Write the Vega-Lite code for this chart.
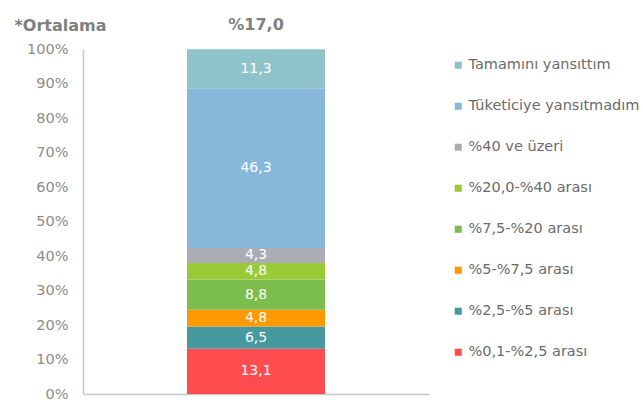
{
  "$schema": "https://vega.github.io/schema/vega-lite/v6.json",
  "description": "Single stacked bar with pass-through shares, Turkish labels.",
  "background": "white",
  "autosize": {"type": "none"},
  "padding": {"left": 83, "top": 49, "right": 214, "bottom": 16},
  "width": 346,
  "height": 345,
  "title": {
    "text": "%17,0",
    "anchor": "middle",
    "frame": "group",
    "font": "DejaVu Sans",
    "fontSize": 16,
    "fontWeight": "bold",
    "color": "#7f7f7f",
    "offset": -16
  },
  "config": {
    "view": {"stroke": null},
    "font": "DejaVu Sans",
    "axis": {"labelOverlap": false}
  },
  "data": {
    "values": [
      {"grup": "Ortalama", "sira": 1, "kategori": "%0,1-%2,5 arası", "deger": 13.1, "etiket": "13,1"},
      {"grup": "Ortalama", "sira": 2, "kategori": "%2,5-%5 arası", "deger": 6.5, "etiket": "6,5"},
      {"grup": "Ortalama", "sira": 3, "kategori": "%5-%7,5 arası", "deger": 4.8, "etiket": "4,8"},
      {"grup": "Ortalama", "sira": 4, "kategori": "%7,5-%20 arası", "deger": 8.8, "etiket": "8,8"},
      {"grup": "Ortalama", "sira": 5, "kategori": "%20,0-%40 arası", "deger": 4.8, "etiket": "4,8"},
      {"grup": "Ortalama", "sira": 6, "kategori": "%40 ve üzeri", "deger": 4.3, "etiket": "4,3"},
      {"grup": "Ortalama", "sira": 7, "kategori": "Tüketiciye yansıtmadım", "deger": 46.3, "etiket": "46,3"},
      {"grup": "Ortalama", "sira": 8, "kategori": "Tamamını yansıttım", "deger": 11.3, "etiket": "11,3"}
    ]
  },
  "encoding": {
    "x": {
      "field": "grup",
      "type": "nominal",
      "scale": {"paddingInner": 0, "paddingOuter": 0},
      "axis": {
        "title": null,
        "labels": false,
        "ticks": false,
        "domainColor": "#c8c8c8",
        "domainWidth": 1.5
      }
    },
    "order": {"field": "sira", "type": "quantitative"}
  },
  "resolve": {"axis": {"y": "independent"}},
  "layer": [
    {
      "mark": {"type": "bar", "width": 138},
      "encoding": {
        "y": {
          "field": "deger",
          "type": "quantitative",
          "stack": "zero",
          "scale": {"domain": [0, 100], "nice": false},
          "axis": {
            "title": "*Ortalama",
            "titleAngle": 0,
            "titleAlign": "left",
            "titleBaseline": "alphabetic",
            "titleX": -69,
            "titleY": -19,
            "titleFont": "DejaVu Sans",
            "titleFontSize": 16,
            "titleFontWeight": "bold",
            "titleColor": "#7f7f7f",
            "values": [0, 10, 20, 30, 40, 50, 60, 70, 80, 90, 100],
            "labelExpr": "datum.value + '%'",
            "labelOverlap": false,
            "labelFont": "DejaVu Sans",
            "labelFontSize": 14.5,
            "labelColor": "#8c8c8c",
            "labelPadding": 15,
            "ticks": false,
            "grid": false,
            "domainColor": "#c8c8c8",
            "domainWidth": 1.5
          }
        },
        "color": {
          "field": "kategori",
          "type": "nominal",
          "scale": {
            "domain": ["Tamamını yansıttım", "Tüketiciye yansıtmadım", "%40 ve üzeri", "%20,0-%40 arası", "%7,5-%20 arası", "%5-%7,5 arası", "%2,5-%5 arası", "%0,1-%2,5 arası"],
            "range": ["#8ec3c9", "#87b8dc", "#acacb4", "#98cb36", "#7cbd4f", "#ff9900", "#46999f", "#ff4d4f"]
          },
          "legend": {
            "title": null,
            "orient": "none",
            "legendX": 368,
            "legendY": 9,
            "symbolType": "square",
            "symbolSize": 50,
            "symbolStrokeWidth": 0,
            "labelFont": "DejaVu Sans",
            "labelFontSize": 14.5,
            "labelColor": "#6b6b6b",
            "labelOffset": 3,
            "labelLimit": 260,
            "rowPadding": 26
          }
        }
      }
    },
    {
      "mark": {"type": "text", "color": "white", "fontSize": 14, "font": "DejaVu Sans", "baseline": "middle"},
      "encoding": {
        "y": {"field": "deger", "type": "quantitative", "stack": "zero", "bandPosition": 0.5, "axis": null},
        "detail": {"field": "kategori"},
        "text": {"field": "etiket"}
      }
    }
  ]
}
